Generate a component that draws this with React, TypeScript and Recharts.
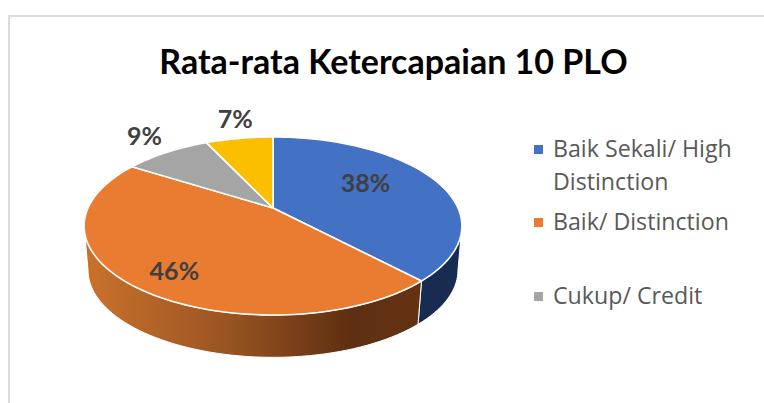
import React from 'react';
import { PieChart, Pie, Cell, Legend } from 'recharts';

const categories = ['Baik Sekali/ High Distinction', 'Baik/ Distinction', 'Cukup/ Credit', 'Kurang/ Pass'];
const shares = [38, 46, 9, 7];
const legendCategories = categories.slice(0, 3);
const legendTops = [0, 73, 147];

const topColors = ['#4371C3', '#EA7C31', '#A5A5A5', '#FBBF00'];
const wallColors = ['#172C50', 'url(#orangeWall)', '#636363', '#997300'];
const labelReach = [0.56, 0.74, 1.25, 1.15];
const labelShift = [-9, 7, -6, -12];

const pieData = categories.map((name, i) => ({ name, value: shares[i] }));

// the reference is a tilted pie with some perspective, so the flat circle is projected
const TILT = 0.4616;
const PERSPECTIVE = 0.202;
const WALL_DROP = 45;
const WALL_SHRINK = 0.98;
const FRONT_FROM = 101.5; // degrees clockwise from 12 o'clock
const FRONT_TO = 258.5;

const project = (cx: number, cy: number, r: number, clockDeg: number) => {
  const rad = (clockDeg * Math.PI) / 180;
  const u = Math.sin(rad);
  const v = -Math.cos(rad);
  const f = r / 185;
  const d = 1 - PERSPECTIVE * f * v;
  return { x: cx + (r * u) / d, y: cy + (r * TILT * v) / d };
};

const arcPoints = (cx: number, cy: number, r: number, from: number, to: number) => {
  const pts = [];
  const steps = Math.max(2, Math.ceil((to - from) / 2));
  for (let i = 0; i <= steps; i++) pts.push(project(cx, cy, r, from + ((to - from) * i) / steps));
  return pts;
};

const toPath = (pts: { x: number; y: number }[]) =>
  pts.map((p, i) => `${i === 0 ? 'M' : 'L'}${p.x.toFixed(2)},${p.y.toFixed(2)}`).join(' ') + ' Z';

const TopSlice = (props: any) => {
  const { cx, cy, outerRadius, startAngle, endAngle, fill } = props;
  const pts = [{ x: cx, y: cy }, ...arcPoints(cx, cy, outerRadius, 90 - startAngle, 90 - endAngle)];
  return <path d={toPath(pts)} fill={fill} stroke="#ffffff" strokeWidth={1.6} strokeLinejoin="round" />;
};

const WallSlice = (props: any) => {
  const { cx, cy, outerRadius, startAngle, endAngle, fill } = props;
  const from = Math.max(90 - startAngle, FRONT_FROM);
  const to = Math.min(90 - endAngle, FRONT_TO);
  if (to <= from) return <g />;
  const top = arcPoints(cx, cy, outerRadius, from, to);
  const bottom = arcPoints(cx, cy + WALL_DROP, outerRadius * WALL_SHRINK, from, to).reverse();
  return <path d={toPath([...top, ...bottom])} fill={fill} stroke="#ffffff" strokeWidth={1} />;
};

const renderLabel = (props: any) => {
  const { cx, cy, outerRadius, midAngle, index, value } = props;
  const p = project(cx, cy, outerRadius * labelReach[index], 90 - midAngle);
  return (
    <text
      x={p.x}
      y={p.y + labelShift[index]}
      textAnchor="middle"
      dominantBaseline="central"
      fontFamily="Lato"
      fontWeight={700}
      fontSize={25}
      fill="#404040"
    >
      {value}%
    </text>
  );
};

const LegendList = () => (
  <div style={{ position: 'relative', width: 220, height: 190 }}>
    {legendCategories.map((name, i) => (
      <div key={name} style={{ position: 'absolute', left: 0, top: legendTops[i], width: 215 }}>
        <span
          style={{
            position: 'absolute',
            left: 0,
            top: 13,
            width: 9,
            height: 9,
            background: topColors[i],
          }}
        />
        <div style={{ marginLeft: 19, fontFamily: 'Open Sans', fontSize: 23.2, lineHeight: '33px', color: '#595959' }}>
          {name}
        </div>
      </div>
    ))}
  </div>
);

export default function App() {
  return (
    <div style={{ position: 'absolute', left: 0, top: 0, width: 764, height: 403, overflow: 'hidden' }}>
      <div
        style={{
          position: 'absolute',
          left: 8,
          top: 15,
          width: 756,
          height: 388,
          borderLeft: '2px solid #dcdcdc',
          borderTop: '2px solid #dcdcdc',
          boxSizing: 'border-box',
        }}
      />
      <PieChart width={764} height={403} margin={{ top: 0, right: 0, bottom: 0, left: 0 }}>
        <defs>
          <linearGradient id="orangeWall" x1="0" y1="0" x2="1" y2="0">
            <stop offset="0" stopColor="#CB722C" />
            <stop offset="0.42" stopColor="#9A5522" />
            <stop offset="0.79" stopColor="#5E2F11" />
            <stop offset="1" stopColor="#643314" />
          </linearGradient>
        </defs>
        <text
          x={393.5}
          y={60}
          textAnchor="middle"
          dominantBaseline="central"
          fontFamily="Lato"
          fontWeight={700}
          fontSize={34}
          fill="#000000"
        >
          Rata-rata Ketercapaian 10 PLO
        </text>
        <Pie
          data={pieData}
          dataKey="value"
          cx={273}
          cy={208}
          outerRadius={185}
          startAngle={90}
          endAngle={-270}
          shape={WallSlice}
          isAnimationActive={false}
        >
          {categories.map((name, i) => (
            <Cell key={name} fill={wallColors[i]} />
          ))}
        </Pie>
        <Pie
          data={pieData}
          dataKey="value"
          cx={273}
          cy={208}
          outerRadius={185}
          startAngle={90}
          endAngle={-270}
          shape={TopSlice}
          label={renderLabel}
          labelLine={false}
          isAnimationActive={false}
        >
          {categories.map((name, i) => (
            <Cell key={name} fill={topColors[i]} />
          ))}
        </Pie>
        <Legend content={<LegendList />} wrapperStyle={{ left: 534, top: 132, width: 220, bottom: 'auto' }} />
      </PieChart>
    </div>
  );
}
